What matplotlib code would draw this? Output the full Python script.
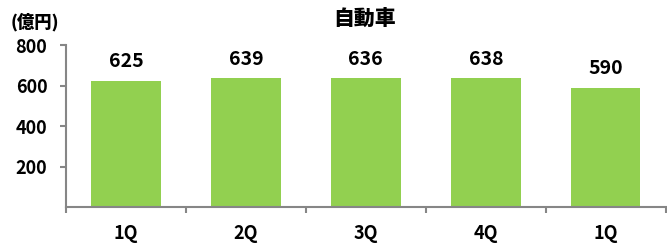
import matplotlib.pyplot as plt

plt.rcParams['font.family'] = ['Noto Sans CJK JP', 'DejaVu Sans']

quarters = ['1Q', '2Q', '3Q', '4Q', '1Q']
sales = [625, 639, 636, 638, 590]
yticks = [200, 400, 600, 800]

barColor = '#92D050'
axisColor = '#868686'

fig = plt.figure(figsize=(6.67, 2.45), dpi=100)
ax = fig.add_axes([0.099, 0.155, 0.899, 0.661])

x = list(range(len(sales)))
ax.bar(x, sales, width=0.58, color=barColor)

# ラベル
for xi, v in zip(x, sales):
    ax.text(xi, v + 65, str(v), ha='center', va='baseline', fontsize=14, fontweight='bold')

ax.set_xlim(-0.5, len(sales) - 0.5)
ax.set_ylim(0, 800)
ax.set_yticks(yticks)
ax.set_yticklabels([str(t) for t in yticks], fontsize=13, fontweight='bold')
ax.set_xticks(x)
ax.set_xticklabels(quarters, fontsize=13, fontweight='bold')
ax.set_xticks([i - 0.5 for i in range(len(sales) + 1)], minor=True)

ax.tick_params(axis='x', which='major', length=0, pad=12)
ax.tick_params(axis='x', which='minor', length=4.5, width=1.5, color=axisColor, direction='out')
ax.tick_params(axis='y', length=4.5, width=1.5, color=axisColor, direction='out', pad=9)

for s in ['top', 'right']:
    ax.spines[s].set_visible(False)
for s in ['left', 'bottom']:
    ax.spines[s].set_color(axisColor)
    ax.spines[s].set_linewidth(1.5)

fig.text(0.546, 0.922, '自動車', ha='center', va='center', fontsize=15, fontweight='black')
fig.text(0.016, 0.91, '(億円)', ha='left', va='center', fontsize=12.5, fontweight='black')

fig.savefig('out.png', dpi=100)
